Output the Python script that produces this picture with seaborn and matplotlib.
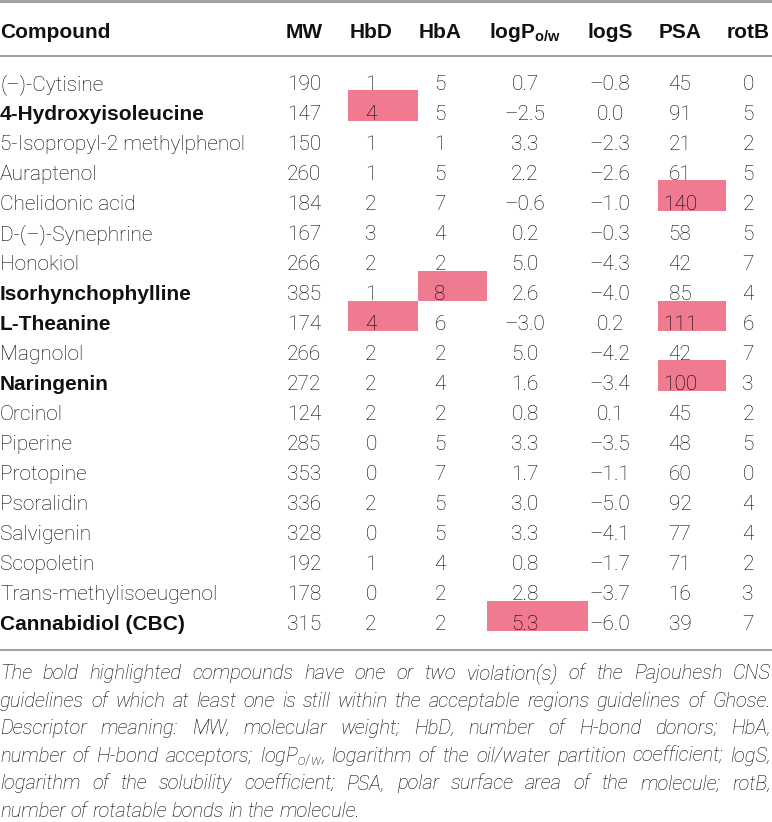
import matplotlib
matplotlib.use("Agg")
import matplotlib.pyplot as plt
import seaborn as sns

# table data
compounds = [
    "(\u2013)-Cytisine", "4-Hydroxyisoleucine", "5-Isopropyl-2 methylphenol",
    "Auraptenol", "Chelidonic acid", "D-(\u2013)-Synephrine", "Honokiol",
    "Isorhynchophylline", "L-Theanine", "Magnolol", "Naringenin", "Orcinol",
    "Piperine", "Protopine", "Psoralidin", "Salvigenin", "Scopoletin",
    "Trans-methylisoeugenol", "Cannabidiol (CBC)",
]
mw = [190, 147, 150, 260, 184, 167, 266, 385, 174, 266, 272, 124, 285, 353, 336, 328, 192, 178, 315]
hbd = [1, 4, 1, 1, 2, 3, 2, 1, 4, 2, 2, 2, 0, 0, 2, 0, 1, 0, 2]
hba = [5, 5, 1, 5, 7, 4, 2, 8, 6, 2, 4, 2, 5, 7, 5, 5, 4, 2, 2]
logp = [0.7, -2.5, 3.3, 2.2, -0.6, 0.2, 5.0, 2.6, -3.0, 5.0, 1.6, 0.8, 3.3, 1.7, 3.0, 3.3, 0.8, 2.8, 5.3]
logs = [-0.8, 0.0, -2.3, -2.6, -1.0, -0.3, -4.3, -4.0, 0.2, -4.2, -3.4, 0.1, -3.5, -1.1, -5.0, -4.1, -1.7, -3.7, -6.0]
psa = [45, 91, 21, 61, 140, 58, 42, 85, 111, 42, 100, 45, 48, 60, 92, 77, 71, 16, 39]
rotb = [0, 5, 2, 5, 2, 5, 7, 4, 6, 7, 3, 2, 5, 0, 4, 4, 2, 3, 7]

bold_rows = ["4-Hydroxyisoleucine", "Isorhynchophylline", "L-Theanine",
             "Naringenin", "Cannabidiol (CBC)"]
flagged = [
    ("4-Hydroxyisoleucine", "HbD"), ("Chelidonic acid", "PSA"),
    ("Isorhynchophylline", "HbA"), ("L-Theanine", "HbD"),
    ("L-Theanine", "PSA"), ("Naringenin", "PSA"), ("Cannabidiol (CBC)", "logP"),
]

col_keys = ["MW", "HbD", "HbA", "logP", "logS", "PSA", "rotB"]
headers = ["MW", "HbD", "HbA", r"logP$_{\mathbf{o/w}}$", "logS", "PSA", "rotB"]

note_lines = [
    "The bold highlighted compounds have one or two violation(s) of the Pajouhesh CNS",
    "guidelines of which at least one is still within the acceptable regions guidelines of Ghose.",
    "Descriptor meaning: MW, molecular weight; HbD, number of H-bond donors; HbA,",
    r"number of H-bond acceptors; logP$_{\mathit{o/w}}$, logarithm of the oil/water partition coefficient; logS,",
    "logarithm of the solubility coefficient; PSA, polar surface area of the molecule; rotB,",
    "number of rotatable bonds in the molecule.",
]

# layout (pixels)
W, H = 772, 822
col_x = [304, 371, 440, 525, 610, 680, 748]
col_edges = [(270, 348), (348, 418), (418, 487), (487, 588), (588, 658), (658, 726), (726, 772)]
row_base0, row_step = 90, 30
head_base = 38
note_base0, note_step = 679, 27.6
pink = "#f07a8f"
ink = "#000000"
rule = "#a3a3a3"
light_font = ["Roboto", "DejaVu Sans"]
bold_font = ["Liberation Sans", "DejaVu Sans"]

sns.set_theme(style="white")
plt.rcParams["font.family"] = light_font
plt.rcParams["mathtext.fontset"] = "custom"
plt.rcParams["mathtext.bf"] = "Liberation Sans:bold"
plt.rcParams["mathtext.it"] = "Roboto:italic:light"
plt.rcParams["mathtext.rm"] = "Roboto:light"

fig = plt.figure(figsize=(W / 100, H / 100), dpi=100)
ax = fig.add_axes([0, 0, 1, 1])
ax.set_xlim(0, W)
ax.set_ylim(H, 0)
ax.axis("off")

def fmt(v):
    return f"{v:.1f}".replace("-", "\u2013")

columns = [
    [str(v) for v in mw], [str(v) for v in hbd], [str(v) for v in hba],
    [fmt(v) for v in logp], [fmt(v) for v in logs],
    [str(v) for v in psa], [str(v) for v in rotb],
]

# highlighted cells
for name, key in flagged:
    i = compounds.index(name)
    j = col_keys.index(key)
    left, right = col_edges[j]
    base = row_base0 + i * row_step
    ax.bar(left, 30.5, width=right - left, bottom=base - 29.5, align="edge",
           color=pink, linewidth=0, zorder=1)

# rules
for y, lw in [(1.5, 2.3), (56, 1.5), (650, 1.5)]:
    ax.axhline(y, color=rule, lw=lw, zorder=2)

bold_kw = dict(family=bold_font, fontweight="bold", color="#111111")
light_kw = dict(family=light_font, fontweight="light", color=ink)

# header
ax.text(0, head_base, "Compound", ha="left", va="baseline", fontsize=15, **bold_kw)
for x, h in zip(col_x, headers):
    ax.text(x, head_base, h, ha="center", va="baseline", fontsize=15, **bold_kw)

# body
for i, name in enumerate(compounds):
    y = row_base0 + i * row_step
    if name in bold_rows:
        ax.text(0, y, name, ha="left", va="baseline", fontsize=15, zorder=3, **bold_kw)
    else:
        ax.text(0, y, name, ha="left", va="baseline", fontsize=15, zorder=3, **light_kw)
    for x, col in zip(col_x, columns):
        ax.text(x, y, col[i], ha="center", va="baseline", fontsize=15, zorder=3, **light_kw)

# footnote, justified
note_kw = dict(family=light_font, fontweight="light", style="italic",
               color=ink, fontsize=14.5)
fig.canvas.draw()
renderer = fig.canvas.get_renderer()
for k, line in enumerate(note_lines):
    y = note_base0 + k * note_step
    words = line.split(" ")
    texts = [ax.text(0, y, w, ha="left", va="baseline", **note_kw) for w in words]
    widths = [t.get_window_extent(renderer).width for t in texts]
    if k < len(note_lines) - 1:
        gap = max((W - 1 - sum(widths)) / (len(words) - 1), 2.5)
    else:
        gap = 4.8
    x = 0
    for t, w in zip(texts, widths):
        t.set_x(x)
        x += w + gap

fig.savefig("out.png", dpi=100, facecolor="white")
